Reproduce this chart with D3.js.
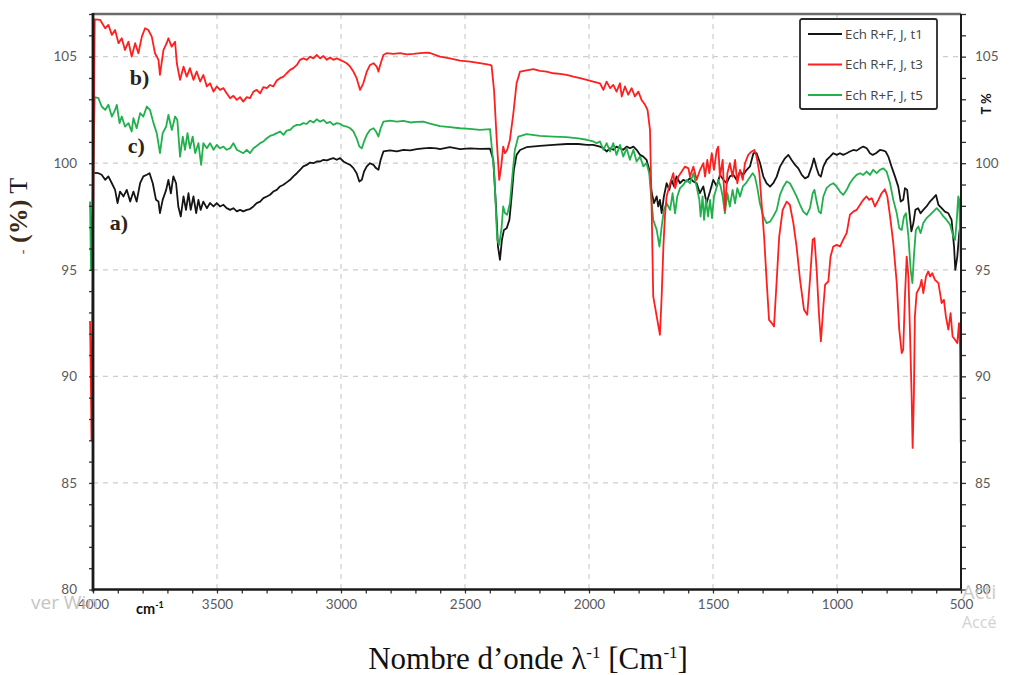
<!DOCTYPE html>
<html>
<head>
<meta charset="utf-8">
<script src="https://cdn.jsdelivr.net/npm/d3@7"></script>
<style>
  body { margin: 0; background: #fff; }
  svg { display: block; }
</style>
</head>
<body>
<svg id="chart" width="1009" height="675"></svg>
<script>
// FTIR transmittance spectra, three sampling times
const xTicks = [4000, 3500, 3000, 2500, 2000, 1500, 1000, 500];
const yTicks = [80, 85, 90, 95, 100, 105];
const seriesNames = ["Ech R+F, J, t1", "Ech R+F, J, t3", "Ech R+F, J, t5"];
const seriesColors = ["#151515", "#ff1f1f", "#22b04c"];

// [wavenumber cm-1, transmittance %]
const t1 = [[3995,99.55],[3978,99.53],[3965,99.46],[3951,99.22],[3938,99.38],[3924,99.06],[3911,98.75],[3901,98.13],[3891,98.67],[3877,98.44],[3864,98.75],[3850,98.2],[3837,98.67],[3824,98.2],[3810,99.06],[3797,99.38],[3783,99.46],[3772,99.53],[3759,99.06],[3746,98.28],[3736,98.2],[3730,97.66],[3719,98.28],[3705,98.75],[3696,99.22],[3686,98.59],[3676,99.38],[3665,99.06],[3656,97.97],[3646,97.5],[3635,98.44],[3625,97.81],[3615,98.59],[3606,97.81],[3595,98.44],[3584,97.66],[3575,98.28],[3566,97.81],[3555,98.2],[3541,97.89],[3528,98.13],[3514,97.97],[3501,98.13],[3488,97.97],[3474,98.05],[3461,97.89],[3447,97.81],[3434,97.89],[3420,97.74],[3407,97.81],[3394,97.74],[3380,97.81],[3367,97.85],[3353,97.97],[3340,98.13],[3326,98.2],[3313,98.36],[3299,98.44],[3286,98.52],[3273,98.67],[3259,98.75],[3246,98.91],[3232,98.99],[3219,99.1],[3205,99.22],[3192,99.38],[3178,99.53],[3165,99.69],[3152,99.85],[3138,99.92],[3125,100.03],[3111,100.0],[3098,100.08],[3084,100.08],[3071,100.16],[3057,100.13],[3044,100.19],[3031,100.24],[3017,100.16],[3004,100.24],[2990,100.08],[2977,100.0],[2963,99.92],[2950,99.77],[2937,99.53],[2926,99.14],[2916,99.22],[2907,99.61],[2896,99.85],[2883,100.0],[2869,99.92],[2859,99.77],[2849,99.69],[2840,100.16],[2829,100.55],[2802,100.6],[2775,100.55],[2748,100.63],[2721,100.6],[2695,100.66],[2668,100.7],[2641,100.72],[2614,100.7],[2601,100.66],[2561,100.75],[2520,100.66],[2480,100.7],[2440,100.67],[2399,100.68],[2386,100.16],[2375,97.97],[2367,96.09],[2359,95.47],[2351,96.41],[2343,96.87],[2332,96.95],[2321,97.34],[2312,98.44],[2303,99.69],[2292,100.39],[2278,100.62],[2252,100.75],[2198,100.81],[2144,100.86],[2090,100.9],[2043,100.9],[2009,100.86],[1983,100.86],[1956,100.78],[1942,100.7],[1929,100.55],[1915,100.7],[1902,100.63],[1889,100.78],[1875,100.7],[1862,100.63],[1848,100.78],[1835,100.7],[1821,100.78],[1808,100.63],[1794,100.39],[1781,100.31],[1768,100.16],[1757,99.69],[1747,98.6],[1738,98.13],[1727,98.44],[1721,97.97],[1714,98.28],[1707,97.66],[1698,98.44],[1687,99.06],[1676,98.75],[1667,99.22],[1657,98.91],[1647,99.38],[1633,99.06],[1620,99.22],[1606,99.14],[1593,99.3],[1579,99.14],[1566,99.06],[1553,98.6],[1539,98.91],[1526,98.13],[1512,98.67],[1499,99.22],[1485,98.91],[1472,99.46],[1458,99.22],[1445,99.06],[1432,99.38],[1418,99.46],[1405,99.22],[1391,99.61],[1378,99.46],[1364,99.69],[1351,99.85],[1337,100.47],[1324,100.47],[1310,100.0],[1297,99.37],[1284,99.06],[1270,98.9],[1257,99.06],[1243,99.37],[1230,99.84],[1210,100.23],[1196,100.39],[1183,100.15],[1169,99.92],[1156,99.76],[1142,99.45],[1129,99.29],[1116,99.37],[1102,99.84],[1093,100.23],[1082,99.76],[1073,99.45],[1065,99.37],[1055,99.84],[1042,100.15],[1028,100.31],[1015,100.47],[1001,100.39],[988,100.47],[975,100.39],[961,100.47],[948,100.55],[934,100.62],[921,100.59],[907,100.7],[894,100.78],[880,100.7],[867,100.47],[856,100.39],[843,100.47],[827,100.62],[813,100.59],[804,100.55],[793,100.31],[780,99.84],[766,99.37],[753,98.9],[743,98.2],[733,98.28],[726,98.83],[717,98.75],[709,97.81],[700,96.8],[692,97.19],[684,97.81],[673,97.89],[663,97.65],[652,97.81],[639,97.97],[625,98.2],[612,98.36],[601,98.51],[591,98.05],[578,97.89],[565,97.73],[551,97.65],[538,97.34],[528,96.09],[523,95.0],[515,95.62],[507,96.72],[501,97.19]];

const t3 = [[4012,92.6],[4009,90.2],[4006,87.0],[3993,106.75],[3971,106.72],[3951,106.33],[3938,106.49],[3924,106.02],[3911,106.25],[3897,105.63],[3884,105.86],[3871,105.31],[3857,105.7],[3844,105.0],[3830,105.63],[3817,105.16],[3803,105.94],[3790,106.33],[3777,106.25],[3763,105.94],[3750,105.16],[3736,104.85],[3730,104.14],[3716,105.31],[3703,105.63],[3696,105.86],[3683,105.47],[3669,105.7],[3662,104.69],[3649,103.91],[3635,104.53],[3622,104.06],[3609,104.46],[3595,103.91],[3582,104.3],[3568,103.83],[3555,104.14],[3541,103.6],[3528,103.75],[3514,103.36],[3501,103.6],[3488,103.44],[3474,103.52],[3461,103.28],[3447,103.05],[3434,103.16],[3420,102.97],[3407,103.1],[3394,102.89],[3380,103.1],[3367,103.05],[3353,103.36],[3340,103.44],[3326,103.28],[3313,103.57],[3299,103.52],[3286,103.67],[3273,103.6],[3259,103.88],[3246,103.99],[3232,104.06],[3219,104.22],[3205,104.38],[3192,104.46],[3178,104.61],[3165,104.85],[3152,104.92],[3138,104.85],[3125,105.0],[3111,104.92],[3098,105.08],[3084,104.92],[3071,105.03],[3057,104.85],[3044,104.96],[3031,104.85],[3017,104.92],[3004,104.85],[2990,104.77],[2977,104.69],[2963,104.53],[2950,104.3],[2937,103.99],[2923,103.44],[2910,103.75],[2896,104.3],[2883,104.61],[2869,104.69],[2856,104.53],[2849,104.3],[2842,104.61],[2829,105.08],[2816,105.16],[2789,105.13],[2762,105.16],[2735,105.11],[2708,105.13],[2681,105.16],[2654,105.19],[2641,105.17],[2601,105.0],[2561,104.92],[2520,104.81],[2480,104.77],[2440,104.69],[2399,104.61],[2393,104.58],[2383,103.44],[2372,101.09],[2362,99.22],[2354,99.84],[2346,100.78],[2339,100.47],[2330,100.62],[2319,101.09],[2305,102.34],[2292,103.75],[2278,104.3],[2252,104.36],[2224,104.41],[2198,104.33],[2171,104.3],[2144,104.22],[2117,104.19],[2090,104.14],[2063,104.06],[2036,103.99],[2009,103.91],[1983,103.83],[1956,103.75],[1942,103.44],[1929,103.83],[1915,103.52],[1902,103.67],[1889,103.36],[1875,103.75],[1868,103.13],[1855,103.6],[1842,103.21],[1828,103.52],[1815,103.13],[1801,103.36],[1788,102.97],[1774,102.74],[1764,102.5],[1754,101.56],[1747,97.65],[1741,93.75],[1727,92.81],[1714,91.95],[1707,93.75],[1700,96.09],[1694,97.5],[1687,98.44],[1673,99.06],[1660,99.53],[1653,98.83],[1640,99.37],[1626,99.61],[1613,99.84],[1599,99.76],[1593,99.37],[1579,99.84],[1566,99.22],[1552,99.69],[1539,100.0],[1532,99.37],[1523,100.15],[1515,99.53],[1505,100.47],[1496,99.69],[1485,100.62],[1479,100.78],[1472,99.37],[1461,100.15],[1452,97.8],[1442,99.53],[1432,100.0],[1421,99.37],[1411,100.15],[1402,99.06],[1391,99.69],[1380,99.22],[1371,100.0],[1358,100.39],[1344,100.55],[1333,100.62],[1324,100.31],[1313,99.53],[1304,98.12],[1294,96.56],[1284,94.53],[1274,92.65],[1263,92.5],[1254,92.34],[1243,94.53],[1233,96.56],[1219,97.81],[1203,98.2],[1190,98.05],[1176,97.19],[1163,96.09],[1149,94.53],[1133,93.12],[1120,92.89],[1109,94.53],[1098,96.41],[1091,96.48],[1082,95.0],[1073,92.97],[1065,91.64],[1055,93.28],[1048,94.3],[1035,94.45],[1026,95.62],[1015,96.09],[1001,96.17],[988,96.09],[975,96.41],[961,96.72],[948,97.58],[934,97.73],[921,97.81],[907,98.05],[894,98.28],[881,98.44],[870,98.28],[860,98.36],[847,97.97],[833,98.28],[820,98.59],[807,98.78],[797,98.44],[786,97.5],[773,96.25],[759,94.37],[749,92.19],[739,91.09],[733,91.25],[726,93.75],[719,95.62],[712,94.69],[706,92.19],[699,89.06],[695,86.64],[690,89.06],[686,92.81],[679,93.9],[665,94.22],[659,94.53],[652,93.9],[641,94.69],[632,94.92],[625,94.69],[616,94.84],[605,94.53],[591,94.37],[578,93.44],[569,93.59],[561,92.81],[551,92.19],[542,92.97],[534,91.87],[524,91.72],[515,91.56],[508,92.5],[504,91.4],[501,86.87]];

const t5 = [[4012,98.2],[4010,96.6],[4008,95.0],[3993,103.1],[3978,103.05],[3965,102.66],[3951,102.5],[3938,102.74],[3924,102.19],[3911,102.5],[3904,102.74],[3893,101.88],[3884,102.19],[3871,101.72],[3857,101.88],[3844,101.49],[3837,102.11],[3824,101.64],[3810,102.35],[3797,102.19],[3783,102.66],[3770,102.5],[3756,101.88],[3743,101.41],[3730,100.47],[3719,101.41],[3705,101.72],[3696,102.27],[3682,101.56],[3669,102.19],[3660,102.03],[3649,100.31],[3638,101.25],[3629,100.63],[3619,101.41],[3609,100.7],[3598,101.25],[3588,100.47],[3575,100.94],[3564,99.92],[3555,100.94],[3541,100.7],[3528,100.94],[3514,100.63],[3501,100.86],[3488,100.7],[3474,100.78],[3461,100.63],[3447,100.7],[3434,100.94],[3420,100.63],[3407,100.55],[3394,100.47],[3380,100.63],[3367,100.47],[3353,100.7],[3340,100.81],[3326,100.94],[3313,101.02],[3299,101.17],[3286,101.28],[3273,101.33],[3259,101.41],[3246,101.49],[3232,101.33],[3219,101.53],[3205,101.56],[3192,101.72],[3178,101.8],[3165,101.8],[3152,101.88],[3138,101.85],[3125,102.0],[3111,101.91],[3098,102.06],[3084,101.95],[3071,102.03],[3057,101.88],[3044,101.94],[3031,101.8],[3017,101.88],[3004,101.85],[2990,101.75],[2977,101.72],[2963,101.64],[2950,101.49],[2937,101.17],[2926,100.78],[2916,100.7],[2907,101.02],[2896,101.33],[2883,101.56],[2869,101.64],[2859,101.49],[2849,101.25],[2840,101.64],[2829,101.95],[2802,102.0],[2775,101.95],[2748,101.99],[2721,101.91],[2695,101.94],[2668,101.95],[2641,101.86],[2601,101.74],[2561,101.69],[2520,101.64],[2480,101.61],[2440,101.56],[2399,101.6],[2382,99.53],[2370,96.4],[2362,96.17],[2352,97.03],[2346,97.97],[2339,97.66],[2330,97.58],[2319,98.12],[2308,99.53],[2299,100.62],[2285,101.25],[2252,101.36],[2198,101.28],[2144,101.25],[2090,101.22],[2043,101.16],[2009,101.1],[1983,101.02],[1969,100.94],[1956,101.02],[1942,100.63],[1929,100.94],[1915,100.55],[1902,100.94],[1889,100.39],[1875,100.86],[1862,100.31],[1848,100.7],[1835,100.16],[1821,100.63],[1808,100.08],[1794,100.31],[1781,99.85],[1768,100.0],[1757,99.53],[1754,99.06],[1741,97.34],[1727,96.87],[1716,96.09],[1707,97.03],[1698,97.81],[1687,98.12],[1673,97.81],[1663,98.59],[1653,97.65],[1644,98.44],[1633,98.83],[1620,98.98],[1606,99.22],[1593,99.06],[1579,99.53],[1566,98.9],[1555,98.28],[1550,97.5],[1542,98.44],[1536,97.34],[1528,98.28],[1520,97.5],[1512,98.28],[1504,97.42],[1496,98.44],[1488,98.75],[1479,99.22],[1469,98.9],[1461,98.44],[1452,97.65],[1442,98.59],[1432,97.97],[1421,98.75],[1411,98.12],[1402,98.83],[1391,98.44],[1380,98.9],[1367,99.06],[1354,99.29],[1340,99.53],[1331,99.37],[1321,98.83],[1311,98.12],[1297,97.5],[1284,97.19],[1270,97.26],[1257,97.5],[1243,97.81],[1230,98.51],[1216,98.9],[1203,99.14],[1190,99.06],[1176,98.75],[1163,98.44],[1149,98.05],[1136,97.73],[1122,97.58],[1109,97.89],[1098,98.59],[1091,98.75],[1082,98.2],[1073,97.73],[1065,97.65],[1055,98.44],[1042,98.83],[1028,98.98],[1015,99.06],[1001,98.9],[988,98.67],[975,98.51],[961,98.75],[948,99.06],[934,99.29],[921,99.45],[907,99.53],[894,99.45],[881,99.61],[867,99.45],[854,99.69],[840,99.53],[827,99.69],[813,99.76],[800,99.61],[786,99.06],[773,98.28],[759,97.65],[749,96.95],[739,96.87],[730,97.5],[722,97.65],[712,96.56],[703,95.0],[696,94.37],[690,95.62],[682,96.87],[672,97.03],[663,96.72],[652,97.19],[639,97.42],[625,97.58],[612,97.73],[598,97.89],[585,97.73],[571,97.5],[558,97.34],[544,97.11],[531,96.56],[524,96.4],[518,97.19],[511,98.44],[507,98.28],[501,95.31]];

// sample tags placed beside each trace: [text, wavenumber, transmittance]
const sampleTags = [["b)", 3852, 103.65], ["c)", 3860, 100.5], ["a)", 3932, 96.85]];

const svg = d3.select("#chart");
const x = d3.scaleLinear().domain([4000, 500]).range([93, 961]);
const y = d3.scaleLinear().domain([80, 107]).range([589.5, 14]);
const tickFont = "Lato, 'Open Sans', sans-serif";
const legendFont = "'Open Sans', Lato, sans-serif";
const serif = "'Liberation Serif', 'Times New Roman', serif";

// dashed grid
const grid = svg.append("g").attr("stroke", "#cdcdcd").attr("stroke-width", 1.2).attr("stroke-dasharray", "5,5");
yTicks.filter(v => v > 80).forEach(v => {
  grid.append("line").attr("x1", x(4000)).attr("x2", x(500)).attr("y1", y(v)).attr("y2", y(v));
});
xTicks.filter(v => v < 4000 && v > 500).forEach(v => {
  grid.append("line").attr("x1", x(v)).attr("x2", x(v)).attr("y1", y(107)).attr("y2", y(80));
});

// spectra
const line = d3.line().x(d => x(d[0])).y(d => y(d[1]));
const drawOrder = [[t1, 0], [t5, 2], [t3, 1]];
drawOrder.forEach(([data, i]) => {
  svg.append("path").datum(data).attr("d", line)
    .attr("fill", "none").attr("stroke", seriesColors[i])
    .attr("stroke-width", 1.8).attr("stroke-linejoin", "round");
});

// frame top
svg.append("line").attr("x1", x(4000)).attr("x2", x(500)).attr("y1", y(107)).attr("y2", y(107))
  .attr("stroke", "#6a6a6a").attr("stroke-width", 2.5);

function styleAxis(g) {
  g.select(".domain").remove();
  g.selectAll(".tick line").attr("stroke", "#333").attr("stroke-width", 1.3);
  g.selectAll(".tick text").attr("fill", "#5a5a5a").attr("font-family", tickFont).attr("font-size", 13.5);
}

// left axis
const left = svg.append("g").attr("transform", `translate(${x(4000)},0)`)
  .call(d3.axisLeft(y).tickValues(d3.range(80, 108)).tickSize(4).tickPadding(12)
    .tickFormat(d => yTicks.includes(d) ? d : ""));
styleAxis(left);
svg.append("line").attr("x1", x(4000)).attr("x2", x(4000)).attr("y1", y(107) - 1).attr("y2", y(80) + 2)
  .attr("stroke", "#1a1a1a").attr("stroke-width", 2.8);

// right axis
const right = svg.append("g").attr("transform", `translate(${x(500)},0)`)
  .call(d3.axisRight(y).tickValues(d3.range(80, 108)).tickSize(5).tickPadding(9)
    .tickFormat(d => yTicks.includes(d) ? d : ""));
styleAxis(right);
svg.append("line").attr("x1", x(500)).attr("x2", x(500)).attr("y1", y(107)).attr("y2", y(80))
  .attr("stroke", "#1a1a1a").attr("stroke-width", 2);

// bottom axis
const bottom = svg.append("g").attr("transform", `translate(0,${y(80)})`)
  .call(d3.axisBottom(x).tickValues(d3.range(500, 4001, 100)).tickSize(4).tickPadding(6)
    .tickFormat(d => xTicks.includes(d) ? d : ""));
styleAxis(bottom);
svg.append("line").attr("x1", x(4000)).attr("x2", x(500)).attr("y1", y(80)).attr("y2", y(80))
  .attr("stroke", "#1a1a1a").attr("stroke-width", 2.4);

// unit tag under the axis
const unit = svg.append("text").attr("x", 136).attr("y", 614)
  .attr("font-family", tickFont).attr("font-weight", 700).attr("font-size", 14.5).attr("fill", "#111");
unit.append("tspan").text("cm");
unit.append("tspan").attr("dy", -6).attr("font-size", 9).text("-1");

// axis titles
const xt = svg.append("text").attr("x", 528).attr("y", 669).attr("text-anchor", "middle")
  .attr("font-family", serif).attr("font-size", 31).attr("fill", "#111");
xt.append("tspan").text("Nombre d\u2019onde \u03bb");
xt.append("tspan").attr("dy", -11).attr("font-size", 17).text("-1");
xt.append("tspan").attr("dy", 11).text(" [Cm");
xt.append("tspan").attr("dy", -11).attr("font-size", 17).text("-1");
xt.append("tspan").attr("dy", 11).text("]");

const yt = svg.append("text").attr("transform", "translate(27,216) rotate(-90)")
  .attr("text-anchor", "middle").attr("font-family", serif)
  .attr("font-size", 26).attr("font-weight", 700);
yt.append("tspan").attr("fill", "#cc3333").attr("font-size", 14).text("-");
yt.append("tspan").attr("fill", "#3e2a16").text(" (%)");
yt.append("tspan").attr("fill", "#1a1a2e").attr("font-weight", 400).text(" T");

svg.append("text").attr("transform", "translate(991,104) rotate(-90)").attr("text-anchor", "middle")
  .attr("font-family", tickFont).attr("font-weight", 700).attr("font-size", 13).attr("fill", "#111").text("T %");

// sample tags
sampleTags.forEach(([t, wn, v]) => {
  svg.append("text").attr("x", x(wn)).attr("y", y(v))
    .attr("font-family", serif).attr("font-weight", 700)
    .attr("font-size", 22).attr("fill", "#2e2416").text(t);
});

// legend
const lg = svg.append("g").attr("transform", "translate(800,19)");
lg.append("rect").attr("width", 137).attr("height", 90).attr("rx", 2)
  .attr("fill", "#fff").attr("stroke", "#2a2a2a").attr("stroke-width", 1.8);
seriesNames.forEach((name, i) => {
  const ly = 15 + i * 30.5;
  lg.append("line").attr("x1", 8).attr("x2", 42).attr("y1", ly).attr("y2", ly)
    .attr("stroke", seriesColors[i]).attr("stroke-width", 1.8);
  lg.append("text").attr("x", 45).attr("y", ly + 4.8).attr("font-family", legendFont)
    .attr("font-size", 13.3).attr("fill", "#444").text(name);
});

// faint system overlay text near the corners
const wm = "'Open Sans', 'Noto Sans', sans-serif";
svg.append("text").attr("x", 31).attr("y", 609).attr("font-family", wm).attr("font-size", 19)
  .attr("fill", "#c4c4c4").text("ver Win");
svg.append("text").attr("x", 962).attr("y", 599).attr("font-family", wm).attr("font-size", 20)
  .attr("fill", "#cccccc").text("Acti");
svg.append("text").attr("x", 962).attr("y", 628).attr("font-family", wm).attr("font-size", 16)
  .attr("fill", "#d2d2d2").text("Accé");
</script>
</body>
</html>
